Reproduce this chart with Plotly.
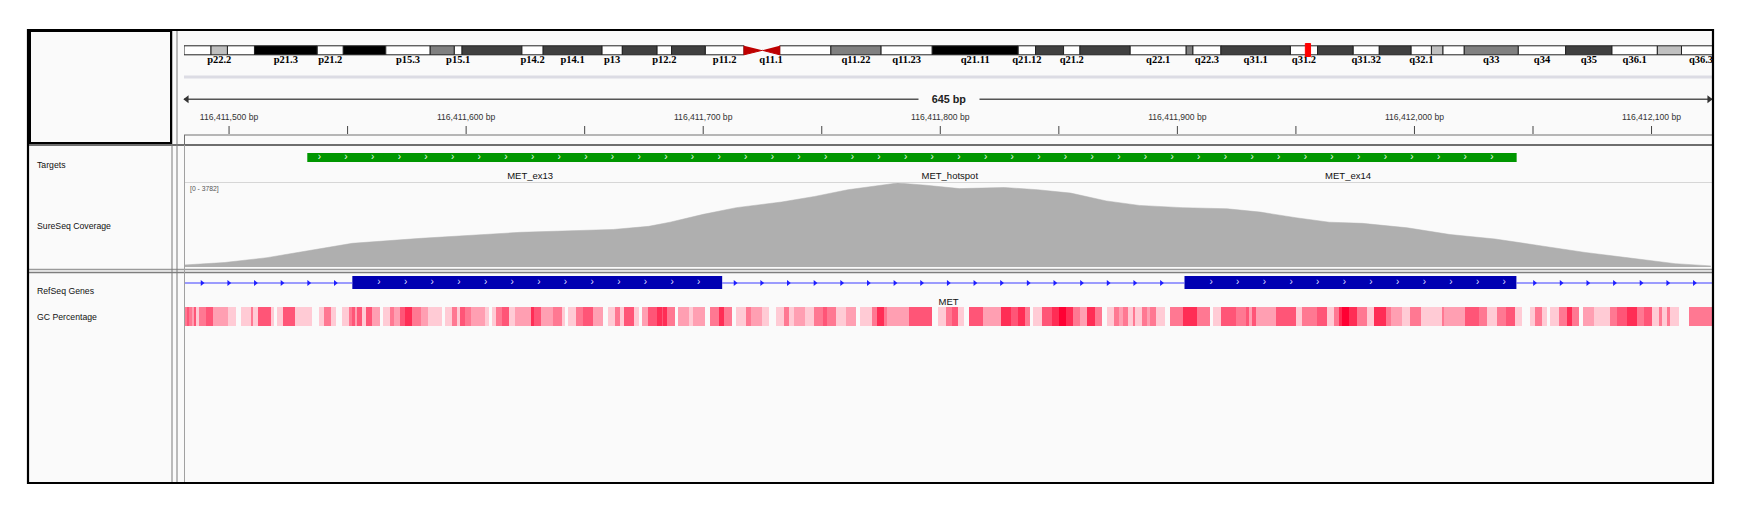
import numpy as np
import plotly.graph_objects as go

W, H = 1752, 516          # browser window
OFF = 8                   # default page margin around the figure
FW, FH = W - 2 * OFF, H - 2 * OFF
FONT = "Liberation Sans, Arial, sans-serif"

# ---------------- data ----------------
X0 = 116411481            # first base in view (chr7)
VIEW_BP = 645             # width of the view in bp

# chr7 cytobands (Mb)
BAND_NAMES = ["p22.3","p22.2","p22.1","p21.3","p21.2","p21.1","p15.3","p15.2","p15.1","p14.3",
              "p14.2","p14.1","p13","p12.3","p12.2","p12.1","p11.2","p11.1","q11.1","q11.21",
              "q11.22","q11.23","q21.11","q21.12","q21.13","q21.2","q21.3","q22.1","q22.2","q22.3",
              "q31.1","q31.2","q31.31","q31.32","q31.33","q32.1","q32.2","q32.3","q33","q34",
              "q35","q36.1","q36.2","q36.3"]
BAND_START = [0.0,2.8,4.5,7.3,13.8,16.5,20.9,25.5,28.0,28.8,35.0,37.2,43.3,45.4,49.0,50.5,54.0,58.0,59.9,61.7,
              67.0,72.2,77.5,86.4,88.2,91.1,92.8,98.0,103.8,104.5,107.4,114.6,117.4,121.1,123.8,127.1,129.2,130.4,132.6,138.2,
              143.1,147.9,152.6,155.1]
BAND_END = BAND_START[1:] + [159.138663]
BAND_STAIN = ["gneg","gpos25","gneg","gpos100","gneg","gpos100","gneg","gpos50","gneg","gpos75",
              "gneg","gpos75","gneg","gpos75","gneg","gpos75","gneg","acen","acen","gneg",
              "gpos50","gneg","gpos100","gneg","gpos75","gneg","gpos75","gneg","gpos50","gneg",
              "gpos75","gneg","gpos75","gneg","gpos75","gneg","gpos25","gneg","gpos50","gneg",
              "gpos75","gneg","gpos25","gneg"]
LABELED_BANDS = ["p22.2","p21.3","p21.2","p15.3","p15.1","p14.2","p14.1","p13","p12.2","p11.2",
                 "q11.1","q11.22","q11.23","q21.11","q21.12","q21.2","q22.1","q22.3","q31.1","q31.2",
                 "q31.32","q32.1","q33","q34","q35","q36.1","q36.3"]

# ruler
RULER_TICKS = [116411500,116411550,116411600,116411650,116411700,116411750,116411800,
               116411850,116411900,116411950,116412000,116412050,116412100]
RULER_LABEL_POS = [116411500,116411600,116411700,116411800,116411900,116412000,116412100]
RULER_LABELS = ["116,411,500 bp","116,411,600 bp","116,411,700 bp","116,411,800 bp",
                "116,411,900 bp","116,412,000 bp","116,412,100 bp"]

# targets
TARGET_NAMES = ["MET_ex13", "MET_hotspot", "MET_ex14"]
TARGET_START = [116411533, 116411565, 116411901]
TARGET_END = [116411721, 116412043, 116412043]

# coverage
COV_MAX = 3782
COV_OFFSET = [0,17,35,52,71,100,142,181,196,205,219,233,252,266,280,294,301,313,327,346,360,374,389,
              403,421,440,454,469,483,497,516,534,553,572,591,610,629,644]
COV_VALUE = [90,200,420,720,1067,1292,1562,1690,1830,2017,2370,2673,2925,3177,3479,3681,3782,3681,3530,
             3580,3480,3328,2975,2773,2673,2622,2471,2219,2017,1966,1765,1462,1261,958,655,403,151,50]

# RefSeq gene MET
GENE_NAME = "MET"
GENE_START, GENE_END = 116312459, 116436396
EXON_START = [116411552, 116411903]
EXON_END = [116411708, 116412043]

# GC percentage (segment start offsets, level 1..6, None = no colour)
GC_OFFSET = [0,1.2,2.1,3.5,4.1,4.9,6.3,9.2,12.1,18.6,21.8,24.2,28.1,29.1,31.0,36.8,37.8,39.4,41.9,46.9,
             53.8,57.1,59.0,61.9,63.9,66.8,69.4,70.9,72.3,73.1,75.2,76.7,79.3,82.5,83.9,86.8,88.6,91.2,93.4,96.3,
             99.9,102.8,108.9,110.1,113.0,115.1,116.6,118.5,121.0,126.8,128.5,129.8,131.8,134.0,136.9,139.8,146.4,147.8,150.7,155.8,
             159.4,160.9,162.0,165.2,168.1,172.5,176.8,179.0,181.9,183.8,185.5,189.9,192.1,193.2,195.7,199.3,201.5,202.2,203.7,206.9,
             208.3,212.8,214.6,219.6,
             221.8,225.5,227.6,231.3,233.0,237.1,239.3,243.6,246.9,249.8,253.0,255.2,257.1,261.8,265.8,269.7,271.2,274.8,279.2,283.5,
             285.0,290.0,292.2,295.1,296.6,306.0,315.7,318.1,321.3,323.9,326.3,328.8,331.1,336.9,344.5,348.8,351.7,354.6,356.8,358.3,
             361.9,366.2,369.1,372.0,375.0,377.9,380.8,384.4,387.3,389.2,392.4,394.5,396.0,398.2,400.4,401.1,404.0,406.2,407.6,409.8,
             413.8,415.9,421.4,427.2,432.7,434.2,437.4,443.9,
             447.8,449.2,450.6,452.0,460.5,468.9,471.7,478.0,482.2,485.0,487.1,488.5,491.4,494.9,499.1,501.9,506.8,508.9,513.8,517.3,
             521.6,530.7,531.4,540.5,546.1,549.7,553.9,557.4,561.6,564.4,567.9,570.0,572.8,574.9,576.3,579.9,583.4,585.5,588.3,590.0,
             594.6,601.6,604.4,608.6,612.9,615.7,619.2,622.0,623.4,625.5,626.9,630.4,634.6]
GC_LEVEL = [3,4,3,2,4,1,3,4,2,1,None,1,3,1,4,1,None,1,4,1,
            None,1,3,1,None,1,3,4,2,4,1,4,2,None,1,3,2,4,5,3,
            2,1,None,1,3,1,4,3,2,1,None,1,3,4,1,2,5,4,2,3,
            1,None,1,3,4,2,None,1,3,1,4,1,None,2,4,5,4,5,3,None,
            2,1,2,None,
            3,5,3,None,1,3,2,1,None,1,3,1,2,1,3,4,3,1,2,None,
            1,3,5,3,2,4,None,1,3,4,1,None,4,2,5,4,5,3,None,1,
            4,5,6,5,3,2,5,3,None,1,3,2,3,1,3,1,3,2,3,1,
            None,3,5,3,None,1,4,3,
            4,2,4,2,4,1,3,4,1,3,5,6,5,3,1,5,3,2,1,3,
            1,3,2,4,3,1,3,4,1,None,1,3,1,None,1,3,5,3,None,2,
            1,3,4,5,3,4,1,3,1,3,1,None,3]

# ---------------- geometry helpers (page pixels -> paper) ----------------
DATA_L, DATA_R = 184, 1712
def fx(p): return (p - OFF) / FW
def fy(p): return 1 - (p - OFF) / FH

view_end = X0 + VIEW_BP - 0.5
fig = go.Figure()

# ---------- ideogram ----------
STAIN_COLOR = {"gneg": "#FFFFFF", "gpos25": "#C0C0C0", "gpos50": "#808080",
               "gpos75": "#404040", "gpos100": "#000000"}
idx = [i for i, s in enumerate(BAND_STAIN) if s != "acen"]
fig.add_trace(go.Bar(
    orientation="h", xaxis="x2", yaxis="y",
    base=[BAND_START[i] for i in idx],
    x=[BAND_END[i] - BAND_START[i] for i in idx],
    y=[50.3] * len(idx), width=9,
    marker=dict(color=[STAIN_COLOR[BAND_STAIN[i]] for i in idx],
                line=dict(color="#222222", width=1)),
    hoverinfo="skip", showlegend=False))
acen = [i for i, s in enumerate(BAND_STAIN) if s == "acen"]
p_i, q_i = acen[0], acen[1]
cen_x = [BAND_START[p_i], BAND_START[p_i], BAND_END[p_i], None,
         BAND_END[q_i], BAND_END[q_i], BAND_START[q_i]]
cen_y = [45.8, 54.8, 50.3, None, 45.8, 54.8, 50.3]
fig.add_trace(go.Scatter(x=cen_x, y=cen_y, xaxis="x2", yaxis="y", mode="lines",
                         fill="toself", fillcolor="#BE0000", line=dict(color="#BE0000", width=1),
                         hoverinfo="skip", showlegend=False))
lab_i = [BAND_NAMES.index(n) for n in LABELED_BANDS]
fig.add_trace(go.Scatter(
    x=[(BAND_START[i] + BAND_END[i]) / 2 for i in lab_i], y=[60.5] * len(lab_i),
    xaxis="x2", yaxis="y", mode="text", text=LABELED_BANDS,
    textfont=dict(family="Liberation Serif, serif", size=10.5, color="#000000", weight="bold"),
    hoverinfo="skip", showlegend=False, cliponaxis=False))

# ---------- ruler ----------
fig.add_trace(go.Scatter(x=[X0, view_end], y=[99.3, 99.3], mode="lines",
                         line=dict(color="#555555", width=1.5), hoverinfo="skip", showlegend=False))
fig.add_trace(go.Scatter(x=[X0 + 1.2, view_end - 1.2], y=[99.3, 99.3], mode="markers",
                         marker=dict(symbol=["triangle-left", "triangle-right"], size=7, color="#333333"),
                         hoverinfo="skip", showlegend=False, cliponaxis=False))
tx, ty = [], []
for t in RULER_TICKS:
    tx += [t, t, None]
    ty += [126, 134, None]
fig.add_trace(go.Scatter(x=tx, y=ty, mode="lines", line=dict(color="#444444", width=1),
                         hoverinfo="skip", showlegend=False))
fig.add_trace(go.Scatter(x=RULER_LABEL_POS, y=[118.0] * len(RULER_LABEL_POS), mode="text",
                         text=RULER_LABELS, textfont=dict(family=FONT, size=8.6, color="#333333"),
                         hoverinfo="skip", showlegend=False, cliponaxis=False))
fig.add_annotation(x=X0 + VIEW_BP / 2, y=99.3, xref="x", yref="y", text=f"<b>{VIEW_BP} bp</b>",
                   showarrow=False, bgcolor="#FAFAFA", width=58,
                   font=dict(family=FONT, size=10.8, color="#222222"))

# ---------- targets ----------
STEP = 11.24  # chevron spacing (bp)
fig.add_trace(go.Bar(orientation="h", xaxis="x", yaxis="y",
                     base=TARGET_START, x=[e - s for s, e in zip(TARGET_START, TARGET_END)],
                     y=[157.5] * len(TARGET_START), width=9,
                     marker=dict(color="#009600", line=dict(width=0)),
                     hoverinfo="skip", showlegend=False))
t_s, t_e = min(TARGET_START), max(TARGET_END)
chev = np.arange(t_s + 5.1, t_e - 2, STEP)
fig.add_trace(go.Scatter(x=chev, y=[157.3] * len(chev), mode="text", text=["›"] * len(chev),
                         textfont=dict(family=FONT, size=10, color="#E8FFE8"),
                         hoverinfo="skip", showlegend=False))
fig.add_trace(go.Scatter(x=[(s + e) / 2 for s, e in zip(TARGET_START, TARGET_END)],
                         y=[176.7] * 3, mode="text", text=TARGET_NAMES,
                         textfont=dict(family=FONT, size=9.5, color="#111111"),
                         hoverinfo="skip", showlegend=False))

# ---------- coverage ----------
fig.add_trace(go.Scatter(x=[X0 + o for o in COV_OFFSET], y=COV_VALUE, xaxis="x", yaxis="y2",
                         mode="lines", fill="tozeroy", fillcolor="#AFAFAF",
                         line=dict(color="#AFAFAF", width=0.5), hoverinfo="skip", showlegend=False))

# ---------- RefSeq gene ----------
seg_x = [GENE_START]
for s, e in zip(EXON_START, EXON_END):
    seg_x += [s, None, e]
seg_x += [GENE_END]
fig.add_trace(go.Scatter(x=seg_x, y=[283 if v is not None else None for v in seg_x], mode="lines",
                         line=dict(color="#3C3CFF", width=1.2), hoverinfo="skip", showlegend=False))
grid = np.arange(X0 + 7.6, view_end, STEP)
intr = [g for g in grid if not any(s - 6.3 <= g <= e + 2 for s, e in zip(EXON_START, EXON_END))]
fig.add_trace(go.Scatter(x=intr, y=[283] * len(intr), mode="markers",
                         marker=dict(symbol="triangle-right", size=5, color="#1E1EFF"),
                         hoverinfo="skip", showlegend=False))
fig.add_trace(go.Bar(orientation="h", xaxis="x", yaxis="y",
                     base=EXON_START, x=[e - s for s, e in zip(EXON_START, EXON_END)],
                     y=[282.5] * len(EXON_START), width=13,
                     marker=dict(color="#0000B2", line=dict(width=0)),
                     hoverinfo="skip", showlegend=False))
ex_ch = np.concatenate([np.arange(s + STEP, e - 1, STEP) for s, e in zip(EXON_START, EXON_END)])
fig.add_trace(go.Scatter(x=ex_ch, y=[282.3] * len(ex_ch), mode="text", text=["›"] * len(ex_ch),
                         textfont=dict(family=FONT, size=10, color="#DDDDFF"),
                         hoverinfo="skip", showlegend=False))
fig.add_trace(go.Scatter(x=[X0 + VIEW_BP / 2], y=[302.5], mode="text",
                         text=[GENE_NAME], textfont=dict(family=FONT, size=9.5, color="#111111"),
                         hoverinfo="skip", showlegend=False))

# ---------- GC percentage ----------
gc_edges = [X0 + o for o in GC_OFFSET] + [view_end]
gc_z = [[np.nan if v is None else v for v in GC_LEVEL]]
fig.add_trace(go.Heatmap(x=gc_edges, y=[307, 326], z=gc_z, xaxis="x", yaxis="y",
                         zmin=1, zmax=6, showscale=False, hoverinfo="skip",
                         colorscale=[[0, "#FFCBD5"], [0.2, "#FF9FB2"], [0.4, "#FF7892"],
                                     [0.6, "#FF5577"], [0.8, "#FF2D55"], [1, "#FF0033"]]))

# ---------- panel decoration ----------
shapes = []
def rect(x0, y0, x1, y1, fill=None, line="#000000", lw=1, layer="above"):
    shapes.append(dict(type="rect", xref="paper", yref="paper", x0=fx(x0), x1=fx(x1),
                       y0=fy(y1), y1=fy(y0), fillcolor=fill or "rgba(0,0,0,0)",
                       line=dict(color=line, width=lw), layer=layer))
def hline(y, x0, x1, color, lw):
    shapes.append(dict(type="line", xref="paper", yref="paper", x0=fx(x0), x1=fx(x1),
                       y0=fy(y), y1=fy(y), line=dict(color=color, width=lw), layer="above"))
def vline(x, y0, y1, color, lw):
    shapes.append(dict(type="line", xref="paper", yref="paper", x0=fx(x), x1=fx(x),
                       y0=fy(y0), y1=fy(y1), line=dict(color=color, width=lw), layer="above"))

rect(28, 30, 1713, 483, fill="#FAFAFA", line="rgba(0,0,0,0)", lw=0, layer="below")
hline(77, DATA_L, DATA_R, "#DCDCE4", 3)
hline(135, DATA_L, DATA_R, "#707070", 1)
vline(184.5, 135, 145, "#707070", 1)
hline(145, 28, 1713, "#6E6E6E", 2.2)
hline(182.5, DATA_L, DATA_R, "#D6D6D6", 1)
hline(269.5, 28, 1713, "#9A9A9A", 1.4)
hline(272.5, 28, 1713, "#7E7E7E", 1.4)
vline(172, 30, 483, "#7A7A7A", 1)
vline(177, 30, 483, "#7A7A7A", 1)
vline(184.5, 145, 483, "#A0A0A0", 1)
rect(30, 31, 171, 143, line="#000000", lw=2)
rect(28, 30, 1713, 483, line="#000000", lw=2.2)
# current-view marker on the ideogram
vc = (X0 + VIEW_BP / 2) / 1e6
shapes.append(dict(type="rect", xref="x2", yref="y", x0=vc - 0.27, x1=vc + 0.27, y0=43.5, y1=56.5,
                   fillcolor="#FF0000", line=dict(color="#FF0000", width=1), layer="above"))

# track names
for name, y in [("Targets", 165), ("SureSeq Coverage", 226), ("RefSeq Genes", 290.7), ("GC Percentage", 317)]:
    fig.add_annotation(x=fx(35), y=fy(y), xref="paper", yref="paper", text=name, showarrow=False,
                       xanchor="left", yanchor="middle", font=dict(family=FONT, size=8.7, color="#111111"))
fig.add_annotation(x=fx(188), y=fy(188.5), xref="paper", yref="paper", text=f"[0 - {COV_MAX}]",
                   showarrow=False, xanchor="left", yanchor="middle",
                   font=dict(family=FONT, size=6.8, color="#555555"))

dom_x = [fx(DATA_L), fx(DATA_R)]
fig.update_layout(
    width=FW, height=FH, margin=dict(l=0, r=0, t=0, b=0),
    paper_bgcolor="#FFFFFF", plot_bgcolor="rgba(0,0,0,0)",
    barmode="overlay", showlegend=False, shapes=shapes,
    xaxis=dict(domain=dom_x, range=[X0, view_end], visible=False, anchor="y", fixedrange=True),
    xaxis2=dict(domain=dom_x, range=[0, 158.26], visible=False, anchor="y", overlaying="x", fixedrange=True),
    yaxis=dict(domain=[0, 1], range=[OFF + FH, OFF], visible=False, anchor="x", fixedrange=True),
    yaxis2=dict(domain=[fy(267), fy(183)], range=[0, COV_MAX], visible=False, anchor="x", fixedrange=True),
)

fig.write_html("out.html")
